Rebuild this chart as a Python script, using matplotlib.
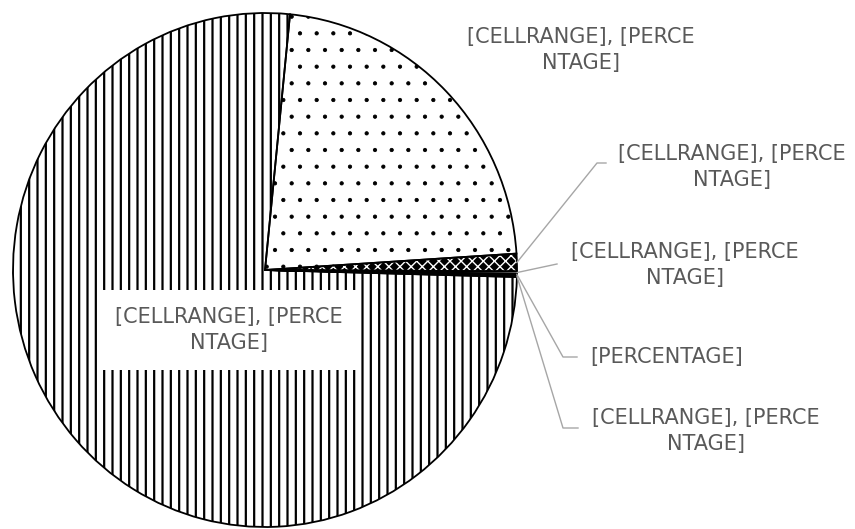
import numpy as np
import matplotlib
matplotlib.use("Agg")
import matplotlib.pyplot as plt

# slice data (clockwise from the top)
categories = ["A", "B", "C", "D", "E", "F"]
shares = [22.4, 1.1, 0.15, 0.1, 0.1, 76.15]
labels = [
    "[CELLRANGE], [PERCE\nNTAGE]",
    "[CELLRANGE], [PERCE\nNTAGE]",
    "[CELLRANGE], [PERCE\nNTAGE]",
    "[PERCENTAGE]",
    "[CELLRANGE], [PERCE\nNTAGE]",
    "[CELLRANGE], [PERCE\nNTAGE]",
]

W, H = 855, 529
k = 252 / 257  # pie is a bit taller than wide


def to_data(px, py):
    return px, (H - py) * k


plt.rcParams['hatch.linewidth'] = 1.5

fig = plt.figure(figsize=(W / 100, H / 100), dpi=100)
ax = fig.add_axes([0, 0, 1, 1])

center = to_data(265, 270)
radius = 252
hatches = ['.', 'xxx', '', '', '', '||']
hatch_lw = [0.6, 1.0, 1.0, 1.0, 1.0, 1.6]
faces = ['white', 'black', 'white', 'white', 'white', 'white']
hcols = ['black', 'white', 'black', 'black', 'black', 'black']

wedges, _ = ax.pie(shares, startangle=84.3, counterclock=False,
                   center=center, radius=radius)
for w, h, lw, fc, hc in zip(wedges, hatches, hatch_lw, faces, hcols):
    w.set_facecolor(fc)
    w.set_edgecolor(hc)
    w.set_hatch(h)
    w.set_linewidth(0)
    if hasattr(w, 'set_hatch_linewidth'):
        w.set_hatch_linewidth(lw)

# outlines on top
outl, _ = ax.pie(shares, startangle=84.3, counterclock=False,
                 center=center, radius=radius,
                 wedgeprops=dict(facecolor='none', edgecolor='black', linewidth=1.3))

txt = dict(fontsize=15, color='#595959', ha='center', va='center',
           multialignment='center', linespacing=1.4, family='DejaVu Sans')

# label positions in image pixels, and leader elbows/ends
label_pos = [(581, 50), (732, 167), (685, 265), (667, 357), (706, 431), (229, 330)]
leaders = {1: [(597, 163), (606, 163)],
           2: [(557, 264), (557, 264)],
           3: [(563, 357), (577, 357)],
           4: [(563, 428), (578, 428)]}

for i, (lab, pos) in enumerate(zip(labels, label_pos)):
    x, y = to_data(*pos)
    if i == 5:
        ax.text(x, y, lab, bbox=dict(facecolor='white', edgecolor='none', pad=12), **txt)
    else:
        ax.text(x, y, lab, **txt)
    if i in leaders:
        w = wedges[i]
        th = np.deg2rad((w.theta1 + w.theta2) / 2)
        ex = center[0] + radius * np.cos(th)
        ey = center[1] + radius * np.sin(th)
        pts = [(ex, ey)] + [to_data(*p) for p in leaders[i]]
        xs, ys = zip(*pts)
        ax.plot(xs, ys, color='#a6a6a6', lw=1)

ax.set_xlim(0, W)
ax.set_ylim(0, H * k)
ax.set_aspect('auto')
ax.axis('off')

fig.savefig("out.png", dpi=100)
